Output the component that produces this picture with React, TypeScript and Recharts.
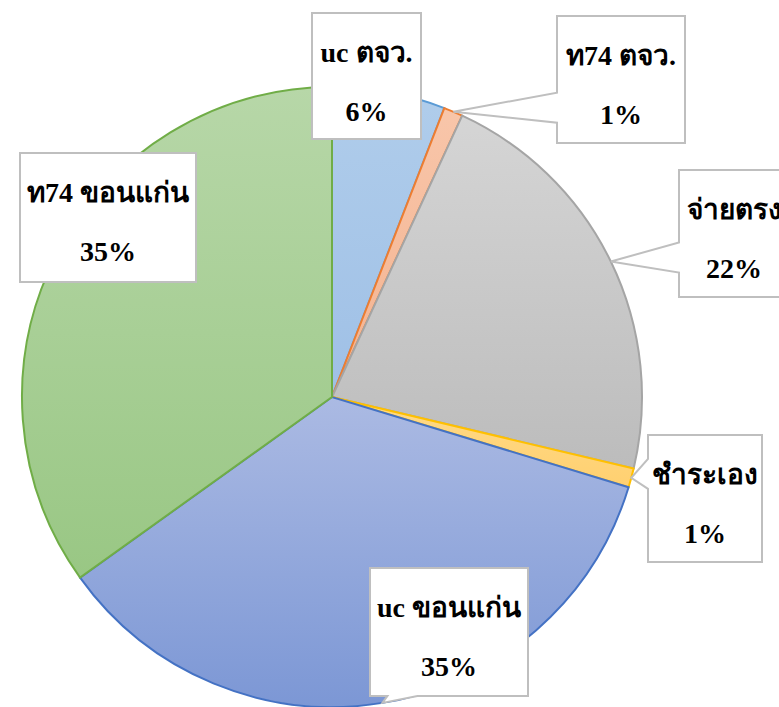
import React from 'react';
import { PieChart, Pie, Cell } from 'recharts';

const categories = ['uc ตจว.', 'ท74 ตจว.', 'จ่ายตรง', 'ชำระเอง', 'uc ขอนแก่น', 'ท74 ขอนแก่น'];
const shares = [5.9, 1.0, 21.8, 1.0, 35.4, 34.9];

const fillTop = ['#b0cdeb', '#f8c6aa', '#d5d5d5', '#ffda88', '#abbae3', '#b7d7a8'];
const fillBottom = ['#9fc0e6', '#f4b28f', '#bcbcbc', '#ffd070', '#7c97d5', '#99c784'];
const strokes = ['#5b9bd5', '#ed7d31', '#a5a5a5', '#ffc000', '#4472c4', '#70ad47'];

const W = 779;
const H = 707;
const CX = 332;
const CY = 397;
const R = 310;

// label box layout, relative to pie centre: [dx, dy, width, height]
const labelBoxes: [number, number, number, number][] = [
  [-20, -384, 109, 126],
  [225, -381, 128, 127],
  [347, -227, 110, 127],
  [316, 38, 114, 127],
  [38, 171, 158, 128],
  [-312, -244, 176, 129],
];

const data = categories.map((name, i) => ({ name, value: shares[i] }));

const RAD = Math.PI / 180;

function calloutPath(x: number, y: number, w: number, h: number, ax: number, ay: number) {
  const inside = ax >= x && ax <= x + w && ay >= y && ay <= y + h;
  const rect = `M${x},${y} L${x + w},${y} L${x + w},${y + h} L${x},${y + h} Z`;
  if (inside) return rect;
  const outL = x - ax;
  const outR = ax - (x + w);
  const outT = y - ay;
  const outB = ay - (y + h);
  const m = Math.max(outL, outR, outT, outB);
  const half = 15;
  const clamp = (v: number, lo: number, hi: number) => Math.max(lo, Math.min(hi, v));
  if (m === outL) {
    const c = clamp(ay - 4, y + half + 2, y + h - half - 2);
    return `M${x},${y} L${x + w},${y} L${x + w},${y + h} L${x},${y + h} L${x},${c + half} L${ax},${ay} L${x},${c - half} Z`;
  }
  if (m === outR) {
    const c = clamp(ay - 4, y + half + 2, y + h - half - 2);
    return `M${x},${y} L${x + w},${y} L${x + w},${c - half} L${ax},${ay} L${x + w},${c + half} L${x + w},${y + h} L${x},${y + h} Z`;
  }
  if (m === outT) {
    const c = clamp(ax, x + half + 2, x + w - half - 2);
    return `M${x},${y} L${c - half},${y} L${ax},${ay} L${c + half},${y} L${x + w},${y} L${x + w},${y + h} L${x},${y + h} Z`;
  }
  const c = clamp(ax + 20, x + half + 2, x + w - half - 2);
  return `M${x},${y} L${x + w},${y} L${x + w},${y + h} L${c + half},${y + h} L${ax},${ay} L${c - half},${y + h} L${x},${y + h} Z`;
}

const FONT = '"Liberation Serif", "Times New Roman", Times, serif';

const renderLabel = (props: any) => {
  const { midAngle, outerRadius, percent, index, name } = props;
  const cx = props.cx ?? CX;
  const cy = props.cy ?? CY;
  const ax = cx + Math.cos(-midAngle * RAD) * outerRadius;
  const ay = cy + Math.sin(-midAngle * RAD) * outerRadius;
  const [dx, dy, w, h] = labelBoxes[index];
  const x = cx + dx;
  const y = cy + dy;
  const pct = Math.round(percent * 100);
  const textStyle = { fontFamily: FONT, fontWeight: 700, fontSize: 28 } as React.CSSProperties;
  return (
    <g key={`lbl-${index}`}>
      <path d={calloutPath(x, y, w, h, ax, ay)} fill="#ffffff" stroke="#bfbfbf" strokeWidth={2} strokeLinejoin="miter" />
      <text x={x + w / 2} y={y + 49} textAnchor="middle" style={textStyle} fill="#000">
        {name}
      </text>
      <text x={x + w / 2} y={y + 108} textAnchor="middle" style={textStyle} fill="#000">
        {`${pct}%`}
      </text>
    </g>
  );
};

export default function App() {
  return (
    <div style={{ position: 'absolute', left: 0, top: 0, width: W, height: H, background: '#fff' }}>
      <PieChart width={W} height={H} margin={{ top: 0, right: 0, bottom: 0, left: 0 }}>
        <defs>
          {fillTop.map((c, i) => (
            <linearGradient key={i} id={`sliceGrad${i}`} x1="0" y1="0" x2="0" y2="1">
              <stop offset="0%" stopColor={c} />
              <stop offset="100%" stopColor={fillBottom[i]} />
            </linearGradient>
          ))}
        </defs>
        <Pie
          data={data}
          dataKey="value"
          nameKey="name"
          cx={CX}
          cy={CY}
          outerRadius={R}
          startAngle={90}
          endAngle={-270}
          isAnimationActive={false}
          label={renderLabel}
          labelLine={false}
        >
          {data.map((d, i) => (
            <Cell key={d.name} fill={`url(#sliceGrad${i})`} stroke={strokes[i]} strokeWidth={2} />
          ))}
        </Pie>
      </PieChart>
    </div>
  );
}
